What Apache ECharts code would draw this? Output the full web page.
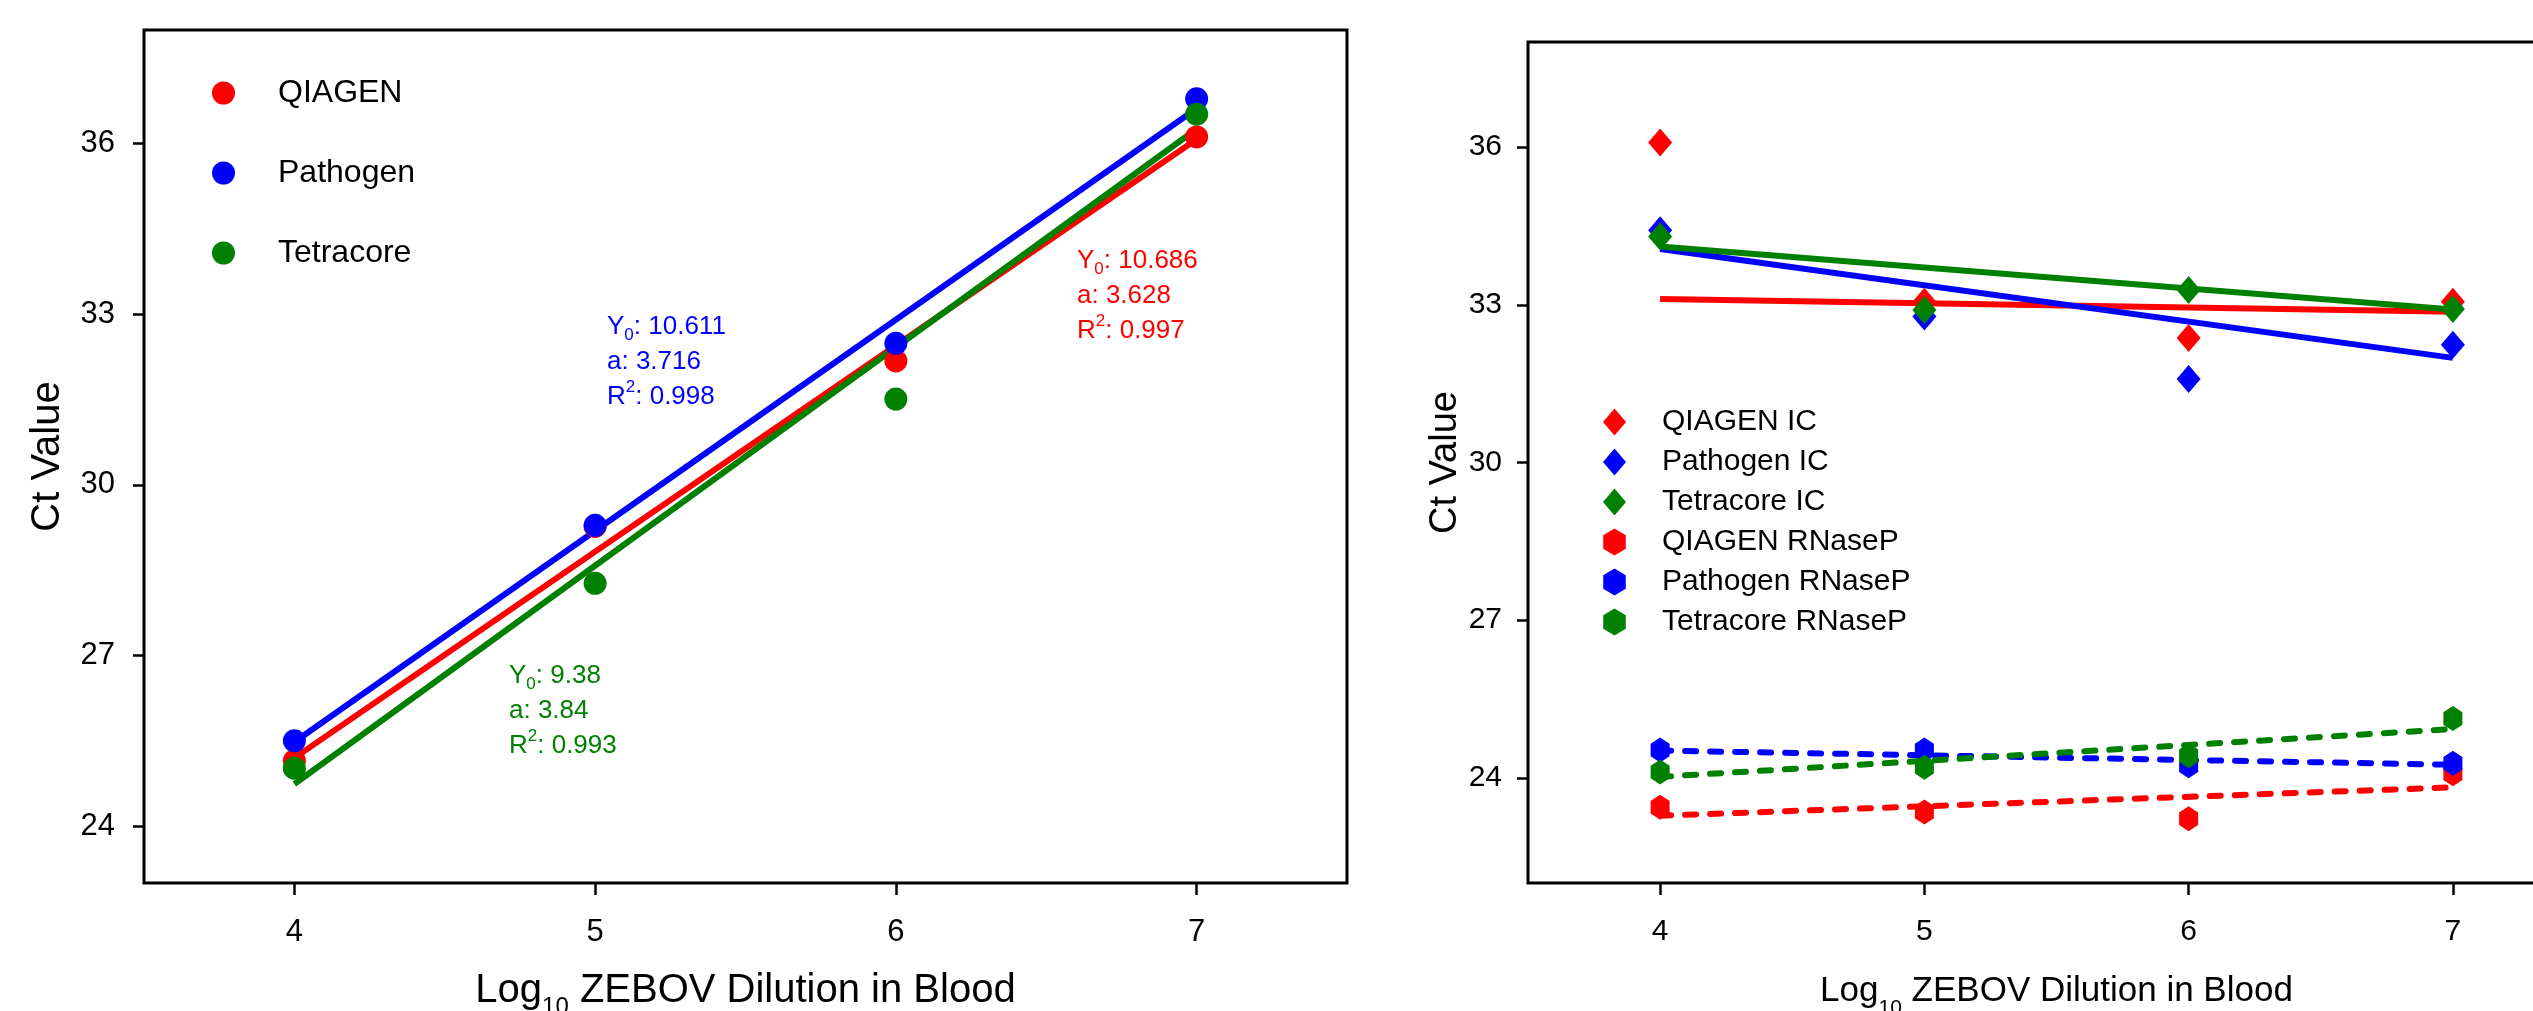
<!DOCTYPE html>
<html><head><meta charset="utf-8">
<script src="https://cdn.jsdelivr.net/npm/echarts@6/dist/echarts.min.js"></script>
<style>html,body{margin:0;padding:0;background:#fff}#c{width:2533px;height:1011px}</style>
</head><body><div id="c"></div><script>
// ---------- data ----------
const dilutions = [4, 5, 6, 7];
const fitX = [4, 7];
const yTicks = [24, 27, 30, 33, 36];

// Left panel: ZEBOV Ct values
const qiagenCt = [25.15, 29.27, 32.18, 36.12];
const pathogenCt = [25.5, 29.29, 32.49, 36.79];
const tetracoreCt = [25.02, 28.27, 31.51, 36.52];
const qiagenFit = [25.2, 36.08];
const pathogenFit = [25.48, 36.62];
const tetracoreFit = [24.74, 36.26];
const qiagenStats = ['10.686', '3.628', '0.997'];
const pathogenStats = ['10.611', '3.716', '0.998'];
const tetracoreStats = ['9.38', '3.84', '0.993'];

// Right panel: internal control and RNaseP Ct values
const qiagenIC = [36.09, 33.06, 32.37, 33.06];
const pathogenIC = [34.42, 32.78, 31.59, 32.24];
const tetracoreIC = [34.30, 32.90, 33.28, 32.92];
const qiagenICFit = [33.11, 32.87];
const pathogenICFit = [34.06, 31.99];
const tetracoreICFit = [34.11, 32.91];
const qiagenRNaseP = [23.44, 23.35, 23.22, 24.08];
const pathogenRNaseP = [24.53, 24.53, 24.23, 24.28];
const tetracoreRNaseP = [24.11, 24.20, 24.42, 25.13];
const qiagenRNasePFit = [23.28, 23.82];
const pathogenRNasePFit = [24.52, 24.25];
const tetracoreRNasePFit = [24.02, 24.93];

const leftNames = ['QIAGEN', 'Pathogen', 'Tetracore'];
const rightNames = ['QIAGEN IC', 'Pathogen IC', 'Tetracore IC', 'QIAGEN RNaseP', 'Pathogen RNaseP', 'Tetracore RNaseP'];
const xTitle = ['Log', '10', ' ZEBOV Dilution in Blood'];
const yTitle = 'Ct Value';

// ---------- styles ----------
const RED = '#FF0000', BLUE = '#0000FF', GREEN = '#008000';
const REG = "'Liberation Sans', Arial, sans-serif";
const HEX = 'path://M10,0 L20,6 L20,18 L10,24 L0,18 L0,6 Z';

const pairs = (xs, ys) => xs.map((x, i) => [x, ys[i]]);

function scatter(name, ys, color, gi, symbol, size) {
  return { type: 'scatter', name, xAxisIndex: gi, yAxisIndex: gi, data: pairs(dilutions, ys),
    symbol, symbolSize: size, itemStyle: { color, opacity: 1, borderWidth: 0 }, z: 4,
    emphasis: { disabled: true }, silent: true };
}
function fit(name, ys, color, gi, dashed) {
  return { type: 'line', name, xAxisIndex: gi, yAxisIndex: gi, data: pairs(fitX, ys),
    symbol: 'none', lineStyle: { color, width: 6, type: dashed ? [11, 14] : 'solid', cap: dashed ? 'round' : 'butt' },
    z: 3, emphasis: { disabled: true }, silent: true, animation: false };
}

function xAxis(gi, fs, titleFs) {
  return { type: 'value', gridIndex: gi, min: 3.5, max: 7.5,
    axisLine: { show: false }, splitLine: { show: false },
    axisTick: { show: true, length: 12, lineStyle: { color: '#000', width: 2.5 }, customValues: dilutions },
    axisLabel: { customValues: dilutions, margin: 34, color: '#000', fontSize: fs, fontFamily: REG },
    name: '{a|' + xTitle[0] + '}{b|' + xTitle[1] + '}{a|' + xTitle[2] + '}',
    nameLocation: 'middle', nameGap: 80,
    nameTextStyle: { rich: {
      a: { fontSize: titleFs, fontFamily: REG, color: '#000', lineHeight: 56 },
      b: { fontSize: Math.round(titleFs * 0.6), fontFamily: REG, color: '#000', lineHeight: 24, verticalAlign: 'bottom' } } } };
}
function yAxis(gi, min, fs, margin, nameGap, titleFs) {
  return { type: 'value', gridIndex: gi, min, max: 38,
    axisLine: { show: false }, splitLine: { show: false },
    axisTick: { show: true, length: 11, lineStyle: { color: '#000', width: 2.5 }, customValues: yTicks },
    axisLabel: { customValues: yTicks, margin, color: '#000', fontSize: fs, fontFamily: REG },
    name: yTitle, nameLocation: 'middle', nameGap, nameRotate: 90,
    nameTextStyle: { fontSize: titleFs, fontFamily: REG, color: '#000' } };
}

function statText(stats, color, x, y) {
  return { type: 'text', x, y, silent: true, z: 10,
    style: { text: '{m|Y}{s|0}{m|: ' + stats[0] + '}\n{m|a: ' + stats[1] + '}\n{m|R}{p|2}{m|: ' + stats[2] + '}',
      fill: color, fontFamily: REG, fontSize: 26,
      rich: { m: { fontSize: 26, lineHeight: 35, fill: color, fontFamily: REG },
              s: { fontSize: 17, lineHeight: 17, verticalAlign: 'bottom', fill: color, fontFamily: REG },
              p: { fontSize: 17, lineHeight: 17, verticalAlign: 'top', fill: color, fontFamily: REG } } } };
}

const chart = echarts.init(document.getElementById('c'), null, { renderer: 'canvas' });
chart.setOption({
  backgroundColor: '#fff',
  animation: false,
  grid: [
    { left: 144, top: 30, width: 1203, height: 853, show: true, borderColor: '#000', borderWidth: 3, backgroundColor: 'transparent', containLabel: false, outerBoundsMode: 'none' },
    { left: 1528, top: 42, width: 1057, height: 841, show: true, borderColor: '#000', borderWidth: 3, backgroundColor: 'transparent', containLabel: false, outerBoundsMode: 'none' }
  ],
  xAxis: [ xAxis(0, 31, 40), xAxis(1, 30, 35) ],
  yAxis: [ yAxis(0, 23, 31, 29, 76, 40), yAxis(1, 22, 30, 26, 62, 38) ],
  legend: [
    { data: leftNames, orient: 'vertical', left: 207, top: 72, itemWidth: 23, itemHeight: 23, itemGap: 48,
      textStyle: { fontSize: 32, fontFamily: REG, color: '#000', padding: [0, 0, 0, 38] }, selectedMode: false },
    { data: rightNames, orient: 'vertical', left: 1598, top: 402, itemWidth: 23, itemHeight: 27, itemGap: 10,
      textStyle: { fontSize: 30, fontFamily: REG, color: '#000', padding: [0, 0, 0, 31] }, selectedMode: false }
  ],
  graphic: [
    statText(qiagenStats, RED, 1077, 243),
    statText(pathogenStats, BLUE, 607, 309),
    statText(tetracoreStats, GREEN, 509, 658)
  ],
  series: [
    fit('QIAGEN fit', qiagenFit, RED, 0, false),
    fit('Pathogen fit', pathogenFit, BLUE, 0, false),
    fit('Tetracore fit', tetracoreFit, GREEN, 0, false),
    scatter('QIAGEN', qiagenCt, RED, 0, 'circle', 23),
    scatter('Pathogen', pathogenCt, BLUE, 0, 'circle', 23),
    scatter('Tetracore', tetracoreCt, GREEN, 0, 'circle', 23),

    fit('QIAGEN IC fit', qiagenICFit, RED, 1, false),
    fit('Pathogen IC fit', pathogenICFit, BLUE, 1, false),
    fit('Tetracore IC fit', tetracoreICFit, GREEN, 1, false),
    fit('QIAGEN RNaseP fit', qiagenRNasePFit, RED, 1, true),
    fit('Pathogen RNaseP fit', pathogenRNasePFit, BLUE, 1, true),
    fit('Tetracore RNaseP fit', tetracoreRNasePFit, GREEN, 1, true),
    scatter('QIAGEN IC', qiagenIC, RED, 1, 'diamond', [24, 28]),
    scatter('Pathogen IC', pathogenIC, BLUE, 1, 'diamond', [24, 28]),
    scatter('Tetracore IC', tetracoreIC, GREEN, 1, 'diamond', [24, 28]),
    scatter('QIAGEN RNaseP', qiagenRNaseP, RED, 1, HEX, [19, 25]),
    scatter('Pathogen RNaseP', pathogenRNaseP, BLUE, 1, HEX, [19, 25]),
    scatter('Tetracore RNaseP', tetracoreRNaseP, GREEN, 1, HEX, [19, 25])
  ]
});
</script></body></html>
